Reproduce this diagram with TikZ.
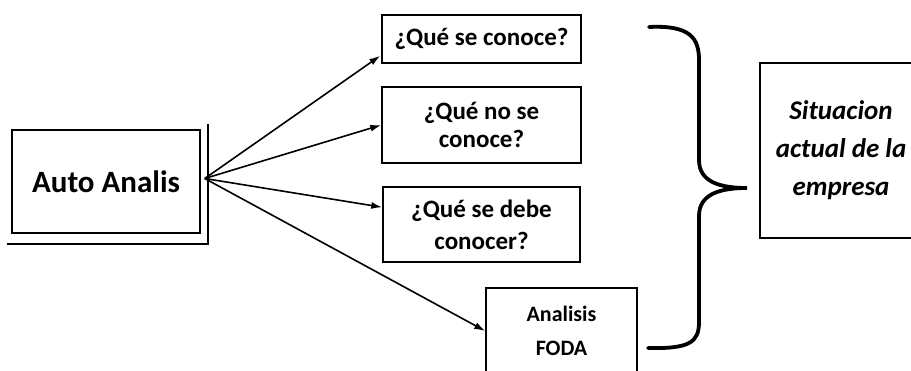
\documentclass[tikz,border=0pt]{standalone}
\usepackage{fontspec}
\setmainfont{Carlito}
\usepackage{tikz}
\usetikzlibrary{positioning}
\usetikzlibrary{arrows.meta,calc}
\tikzstyle{box}=[rectangle,draw,line width=1.5pt,align=center,inner sep=0pt,font=\bfseries]
\tikzstyle{edge} = [draw,line width=1.6pt,-{Latex[length=11pt,width=7pt]}]
\tikzstyle{brace} = [draw,line width=3.8pt,line cap=round]

\begin{document}
\begin{tikzpicture}[x=1pt,y=-1pt]

  \useasboundingbox (0,0) rectangle (911,371);

  \node[box,minimum width=188pt,minimum height=103pt,font=\bfseries\fontsize{31}{36}\selectfont] (auto) at (106,181.5) {Auto Analis};
  \draw[line width=2pt] ($(auto.north east)+(7,-5)$) -- ($(auto.south east)+(7,10)$) -- ($(auto.south west)+(-4,10)$);

   \foreach \x/\y/\w/\h/\fs/\name/\label in {481.5/39/199/48/25/q1/{¿Qué se conoce?}, 481.5/125/199/76/25/q2/{¿Qué no se\\[2pt]conoce?}, 481.5/224.5/197/75/25/q3/{¿Qué se debe\\[6pt]conocer?}, 561.5/331/151/86/22/foda/{Analisis\\[8pt]FODA}}
          \node[box,minimum width=\w pt,minimum height=\h pt,font=\bfseries\fontsize{\fs}{26}\selectfont] (\name) at (\x,\y) {\label};

  \node[box,minimum width=162pt,minimum height=175pt,font=\bfseries\itshape\fontsize{27}{38}\selectfont] (sit) at (841,150.5) {Situacion\\actual de la\\empresa};

  \coordinate (src) at ($(auto.east)+(4,-3)$);
  \coordinate (e1) at ($(q1.south west)+(-1,-8)$);
  \coordinate (e3) at ($(q3.north west)+(0,21)$);

  \foreach \dest in {e1, q2.west, e3, foda.west}
         \path[edge] (src) -- (\dest);

  % curly brace
  \draw[brace] (649,27) .. controls (690,25) and (699,38) .. (699,60) -- (699,160)
     .. controls (699,182) and (720,188) .. (747,188)
     .. controls (720,188) and (699,194) .. (699,216) -- (699,322)
     .. controls (699,342) and (690,349) .. (648,348);

\end{tikzpicture}
\end{document}
